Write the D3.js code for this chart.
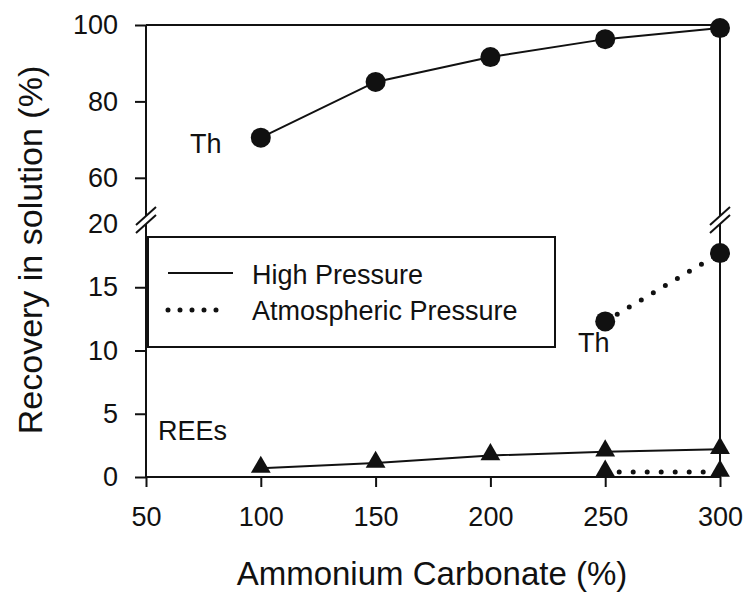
<!DOCTYPE html>
<html>
<head>
<meta charset="utf-8">
<script src="https://cdn.jsdelivr.net/npm/d3@7"></script>
<style>
  html, body { margin: 0; padding: 0; background: #fff; }
  svg { display: block; font-family: "Liberation Sans", Arial, sans-serif; }
</style>
</head>
<body>
<svg id="chart" width="744" height="594"></svg>
<script>
// ---- data ----
const xValues = [100, 150, 200, 250, 300];
const thHighPressure = [70.5, 85.1, 91.6, 96.3, 99.2];
const reeHighPressure = [0.7, 1.1, 1.7, 2.0, 2.2];
const xAtm = [250, 300];
const thAtmPressure = [12.3, 17.7];
const reeAtmPressure = [0.4, 0.4];
const xTicks = [50, 100, 150, 200, 250, 300];
const yTopTicks = [60, 80, 100];
const yBottomTicks = [0, 5, 10, 15, 20];
const legendLabels = ["High Pressure", "Atmospheric Pressure"];
const xTitle = "Ammonium Carbonate (%)";
const yTitle = "Recovery in solution (%)";

// ---- layout ----
const svg = d3.select("#chart");
const ink = "#111";
const x = d3.scaleLinear().domain([50, 300]).range([146, 720]);
const yTop = d3.scaleLinear().domain([50, 100]).range([216, 25]);
const yBot = d3.scaleLinear().domain([0, 20]).range([477, 224]);

function styleAxis(g) {
  g.selectAll("path.domain").remove();
  g.selectAll(".tick line").attr("stroke", ink).attr("stroke-width", 2);
  g.selectAll(".tick text").attr("fill", ink).style("font-size", "27px")
    .style("font-family", '"Liberation Sans", Arial, sans-serif');
}

// axes
svg.append("g").attr("transform", "translate(146,0)")
  .call(d3.axisLeft(yTop).tickValues(yTopTicks).tickSize(11).tickPadding(17).tickSizeOuter(0))
  .call(styleAxis);
const gb = svg.append("g").attr("transform", "translate(146,0)")
  .call(d3.axisLeft(yBot).tickValues(yBottomTicks).tickSize(11).tickPadding(17).tickSizeOuter(0))
  .call(styleAxis);
gb.selectAll(".tick").filter(d => d === 20).select("line").remove();
svg.append("g").attr("transform", "translate(0,477)")
  .call(d3.axisBottom(x).tickValues(xTicks).tickSize(10).tickPadding(20).tickSizeOuter(0))
  .call(styleAxis);

// frame lines with breaks
const frame = svg.append("g").attr("stroke", ink).attr("stroke-width", 2).attr("fill", "none");
[x(50), x(300)].forEach(px => {
  frame.append("line").attr("x1", px).attr("x2", px).attr("y1", yTop(100)).attr("y2", yTop(50));
  frame.append("line").attr("x1", px).attr("x2", px).attr("y1", yBot(20)).attr("y2", yBot(0));
  [yTop(50), yBot(20)].forEach(py => {
    frame.append("line").attr("x1", px - 10).attr("y1", py + 9).attr("x2", px + 10).attr("y2", py - 9);
  });
});
frame.append("line").attr("x1", x(50)).attr("x2", x(300)).attr("y1", yTop(100)).attr("y2", yTop(100));
frame.append("line").attr("x1", x(50)).attr("x2", x(300)).attr("y1", yBot(0)).attr("y2", yBot(0));

// lines
const lineTop = d3.line().x(d => x(d[0])).y(d => yTop(d[1]));
const lineBot = d3.line().x(d => x(d[0])).y(d => yBot(d[1]));
const solid = { stroke: ink, "stroke-width": 2, fill: "none" };
const dotted = { stroke: ink, "stroke-width": 5, fill: "none", "stroke-dasharray": "0 14", "stroke-linecap": "round" };
function applyAttrs(sel, a) { Object.entries(a).forEach(([k, v]) => sel.attr(k, v)); return sel; }

applyAttrs(svg.append("path").attr("d", lineTop(d3.zip(xValues, thHighPressure))), solid);
applyAttrs(svg.append("path").attr("d", lineBot(d3.zip(xValues, reeHighPressure))), solid);
applyAttrs(svg.append("path").attr("d", lineBot(d3.zip(xAtm, thAtmPressure))), dotted);
applyAttrs(svg.append("path").attr("d", lineBot(d3.zip(xAtm, reeAtmPressure))), dotted);

// markers
const tri = d3.symbol().type(d3.symbolTriangle).size(170);
svg.append("g").selectAll("circle").data(d3.zip(xValues, thHighPressure)).join("circle")
  .attr("cx", d => x(d[0])).attr("cy", d => yTop(d[1])).attr("r", 10).attr("fill", ink);
svg.append("g").selectAll("circle").data(d3.zip(xAtm, thAtmPressure)).join("circle")
  .attr("cx", d => x(d[0])).attr("cy", d => yBot(d[1])).attr("r", 10).attr("fill", ink);
svg.append("g").selectAll("path").data(d3.zip(xValues, reeHighPressure).concat(d3.zip(xAtm, reeAtmPressure))).join("path")
  .attr("d", tri).attr("transform", d => `translate(${x(d[0])},${yBot(d[1]) - 1})`).attr("fill", ink);

// annotations
const ann = svg.append("g").attr("fill", ink).style("font-size", "27px");
ann.append("text").attr("x", 190).attr("y", 153).text("Th");
ann.append("text").attr("x", 578).attr("y", 352).text("Th");
ann.append("text").attr("x", 158).attr("y", 440).text("REEs");

// legend
svg.append("rect").attr("x", 148).attr("y", 237).attr("width", 407).attr("height", 110)
  .attr("fill", "#fff").attr("stroke", ink).attr("stroke-width", 2);
applyAttrs(svg.append("line").attr("x1", 168).attr("x2", 233).attr("y1", 273).attr("y2", 273), solid);
applyAttrs(svg.append("line").attr("x1", 168).attr("x2", 228).attr("y1", 310).attr("y2", 310), dotted)
  .attr("stroke-dasharray", "0 12");
const lg = svg.append("g").attr("fill", ink).style("font-size", "27px");
lg.append("text").attr("x", 252).attr("y", 284).text(legendLabels[0]);
lg.append("text").attr("x", 252).attr("y", 320).text(legendLabels[1]);

// titles
svg.append("text").attr("x", 432).attr("y", 585).attr("text-anchor", "middle")
  .attr("fill", ink).style("font-size", "33px").text(xTitle);
svg.append("text").attr("transform", "translate(42,250) rotate(-90)").attr("text-anchor", "middle")
  .attr("fill", ink).style("font-size", "34px").text(yTitle);
</script>
</body>
</html>
